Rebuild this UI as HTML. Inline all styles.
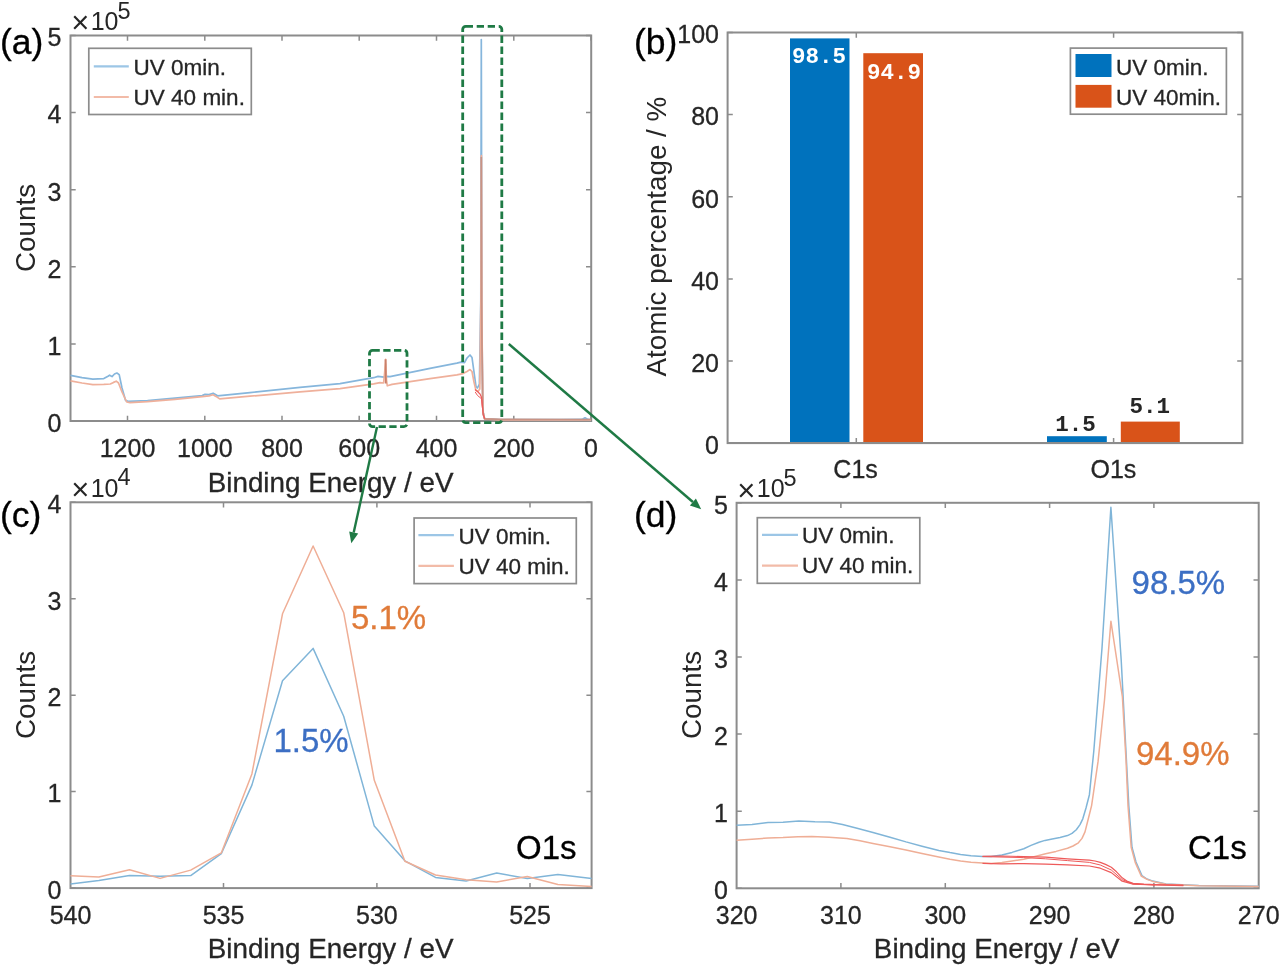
<!DOCTYPE html>
<html><head><meta charset="utf-8"><title>XPS</title>
<style>html,body{margin:0;padding:0;background:#fff;overflow:hidden}svg{display:block;filter:blur(0.55px)}text{font-family:"Liberation Sans",sans-serif;stroke-width:.3px}.m{font-family:"Liberation Mono",monospace;font-weight:bold}</style>
</head><body>
<svg width="1280" height="967" viewBox="0 0 1280 967">
<rect width="1280" height="967" fill="#fff"/>
<rect x="70.5" y="35.5" width="520.7" height="385.5" fill="#fff" stroke="#8c8c8c" stroke-width="2.0"/>
<path d="M127.5 421v-5.2M127.5 35.5v5.2M204.8 421v-5.2M204.8 35.5v5.2M282.0 421v-5.2M282.0 35.5v5.2M359.2 421v-5.2M359.2 35.5v5.2M436.5 421v-5.2M436.5 35.5v5.2M513.8 421v-5.2M513.8 35.5v5.2M591.0 421v-5.2M591.0 35.5v5.2M70.5 421.0h5.2M591.2 421.0h-5.2M70.5 343.9h5.2M591.2 343.9h-5.2M70.5 266.8h5.2M591.2 266.8h-5.2M70.5 189.7h5.2M591.2 189.7h-5.2M70.5 112.6h5.2M591.2 112.6h-5.2M70.5 35.5h5.2M591.2 35.5h-5.2" stroke="#8c8c8c" stroke-width="1.5" fill="none"/>
<text x="127.5" y="456.7" font-size="25" text-anchor="middle" fill="#262626" stroke="#262626" >1200</text>
<text x="204.8" y="456.7" font-size="25" text-anchor="middle" fill="#262626" stroke="#262626" >1000</text>
<text x="282.0" y="456.7" font-size="25" text-anchor="middle" fill="#262626" stroke="#262626" >800</text>
<text x="359.2" y="456.7" font-size="25" text-anchor="middle" fill="#262626" stroke="#262626" >600</text>
<text x="436.5" y="456.7" font-size="25" text-anchor="middle" fill="#262626" stroke="#262626" >400</text>
<text x="513.8" y="456.7" font-size="25" text-anchor="middle" fill="#262626" stroke="#262626" >200</text>
<text x="591.0" y="456.7" font-size="25" text-anchor="middle" fill="#262626" stroke="#262626" >0</text>
<text x="61.5" y="431.8" font-size="25" text-anchor="end" fill="#262626" stroke="#262626" >0</text>
<text x="61.5" y="354.7" font-size="25" text-anchor="end" fill="#262626" stroke="#262626" >1</text>
<text x="61.5" y="277.6" font-size="25" text-anchor="end" fill="#262626" stroke="#262626" >2</text>
<text x="61.5" y="200.5" font-size="25" text-anchor="end" fill="#262626" stroke="#262626" >3</text>
<text x="61.5" y="123.4" font-size="25" text-anchor="end" fill="#262626" stroke="#262626" >4</text>
<text x="61.5" y="46.3" font-size="25" text-anchor="end" fill="#262626" stroke="#262626" >5</text>
<text x="80.3" y="33.3" font-size="31" text-anchor="middle" fill="#262626">×</text>
<text x="90.7" y="30.0" font-size="25" fill="#262626">10</text>
<text x="117.5" y="18.5" font-size="23.5" fill="#262626">5</text>
<text x="330.6" y="491.8" font-size="27.8" text-anchor="middle" fill="#262626" stroke="#262626" >Binding Energy / eV</text>
<text transform="translate(35.4,228) rotate(-90)" font-size="27.8" text-anchor="middle" fill="#262626">Counts</text>
<text x="0.0" y="54.2" font-size="35.5" text-anchor="start" fill="#000" stroke="#000" >(a)</text>
<path d="M70.5 375.3 L82.0 377.6 L92.8 379.2 L103.8 378.6 L108.0 376.2 L109.6 375.2 L112.0 376.6 L114.5 374.0 L116.9 373.0 L119.2 374.6 L122.0 388.0 L125.6 400.4 L128.0 401.3 L147.5 400.7 L175.0 398.2 L202.2 395.6 L205.0 394.4 L209.0 394.6 L213.1 393.2 L215.0 394.2 L217.5 395.8 L250.0 392.6 L300.0 387.4 L340.0 383.6 L373.7 377.7 L378.0 376.4 L384.0 377.2 L386.0 376.4 L390.0 376.6 L430.0 368.4 L456.9 363.2 L461.0 362.2 L464.5 362.6 L467.0 358.0 L470.0 355.0 L472.0 357.5 L474.0 372.0 L476.0 386.5 L477.5 388.0 L479.4 384.0 L480.8 300.0 L481.3 39.5 L481.9 330.0 L483.0 412.0 L484.5 418.6 L500.0 419.5 L560.0 419.6 L582.0 419.4 L585.0 417.8 L588.0 419.4 L591.0 419.6" fill="none" stroke="#86b6dc" stroke-width="1.7" stroke-linejoin="round"  />
<path d="M70.5 380.8 L82.0 383.0 L92.8 384.7 L103.8 384.4 L110.3 384.0 L113.5 382.4 L116.2 381.2 L118.5 383.0 L122.0 392.0 L126.7 402.0 L130.0 402.6 L147.5 401.6 L175.0 399.4 L202.2 396.7 L209.0 395.9 L213.1 394.8 L216.0 396.4 L219.7 398.9 L250.0 396.2 L300.0 391.8 L340.0 388.6 L373.7 383.8 L380.0 382.6 L383.6 383.0 L384.7 372.0 L385.6 359.3 L386.5 380.0 L387.3 385.8 L392.0 384.4 L430.0 378.6 L456.9 374.8 L463.0 373.6 L467.0 371.4 L470.0 369.6 L472.0 371.5 L474.0 382.0 L476.0 390.5 L478.0 391.4 L479.8 389.0 L480.9 300.0 L481.4 155.5 L482.0 330.0 L483.0 412.0 L484.5 418.8 L500.0 419.8 L560.0 419.9 L591.0 419.9" fill="none" stroke="#efb09b" stroke-width="1.7" stroke-linejoin="round"  />
<path d="M481.3 157.0 L481.5 300.0 L482.6 405.0 L483.4 414.0 L484.6 418.8 L500.0 419.4 L591.0 419.5" fill="none" stroke="#c99384" stroke-width="1.7" stroke-linejoin="round"  />
<path d="M385.6 359.3 L385.8 383.5" fill="none" stroke="#c9806a" stroke-width="1.8" stroke-linejoin="round"  />
<path d="M475.0 389.5 L477.5 391.5 L480.0 394.0 L481.6 397.5 L482.4 406.0 L483.2 415.0 L484.8 418.8" fill="none" stroke="#ee5a5a" stroke-width="1.2" stroke-linejoin="round"  />
<path d="M475.2 392.0 L477.5 395.5 L480.0 397.5 L481.6 399.0 L482.4 408.0" fill="none" stroke="#ee5a5a" stroke-width="1.0" stroke-linejoin="round"  />
<rect x="88.8" y="48.3" width="162.5" height="66.2" fill="#fff" stroke="#8c8c8c" stroke-width="1.7"/>
<path d="M93.8 66.3H128.8" stroke="#9cc6e6" stroke-width="2.2"/>
<path d="M93.8 97H128.8" stroke="#f2bba8" stroke-width="2.2"/>
<text x="133.6" y="74.5" font-size="22.5" text-anchor="start" fill="#262626" stroke="#262626" >UV 0min.</text>
<text x="133.6" y="105.0" font-size="22.5" text-anchor="start" fill="#262626" stroke="#262626" >UV 40 min.</text>
<rect x="727.6" y="32.5" width="514.8" height="410.6" fill="#fff" stroke="#8c8c8c" stroke-width="2.0"/>
<path d="M856.3 443.1v-5.2M856.3 32.5v5.2M1113.6 443.1v-5.2M1113.6 32.5v5.2M727.6 443.1h5.2M1242.4 443.1h-5.2M727.6 361.0h5.2M1242.4 361.0h-5.2M727.6 278.9h5.2M1242.4 278.9h-5.2M727.6 196.7h5.2M1242.4 196.7h-5.2M727.6 114.6h5.2M1242.4 114.6h-5.2M727.6 32.5h5.2M1242.4 32.5h-5.2" stroke="#8c8c8c" stroke-width="1.5" fill="none"/>
<text x="719.0" y="453.9" font-size="25" text-anchor="end" fill="#262626" stroke="#262626" >0</text>
<text x="719.0" y="371.8" font-size="25" text-anchor="end" fill="#262626" stroke="#262626" >20</text>
<text x="719.0" y="289.7" font-size="25" text-anchor="end" fill="#262626" stroke="#262626" >40</text>
<text x="719.0" y="207.5" font-size="25" text-anchor="end" fill="#262626" stroke="#262626" >60</text>
<text x="719.0" y="125.4" font-size="25" text-anchor="end" fill="#262626" stroke="#262626" >80</text>
<text x="719.0" y="43.3" font-size="25" text-anchor="end" fill="#262626" stroke="#262626" >100</text>
<rect x="790" y="38.4" width="59.5" height="404.7" fill="#0072bd"/>
<rect x="863.3" y="53.2" width="59.7" height="389.9" fill="#d95319"/>
<rect x="1047" y="436.2" width="59.8" height="6.9" fill="#0072bd"/>
<rect x="1120.8" y="421.6" width="59" height="21.5" fill="#d95319"/>
<path d="M727.6 443.1H1242.4" stroke="#8c8c8c" stroke-width="2.0"/>
<text x="855.6" y="478.0" font-size="25" text-anchor="middle" fill="#262626" stroke="#262626" >C1s</text>
<text x="1113.4" y="478.0" font-size="25" text-anchor="middle" fill="#262626" stroke="#262626" >O1s</text>
<text x="819" y="63.1" font-size="22.5" text-anchor="middle" fill="#fff" class="m">98.5</text>
<text x="894" y="78.7" font-size="22.5" text-anchor="middle" fill="#fff" class="m">94.9</text>
<text x="1075.6" y="430.6" font-size="22.5" text-anchor="middle" fill="#262626" class="m">1.5</text>
<text x="1149.7" y="413.1" font-size="22.5" text-anchor="middle" fill="#262626" class="m">5.1</text>
<text transform="translate(666,236.6) rotate(-90)" font-size="27.8" text-anchor="middle" fill="#262626">Atomic percentage / %</text>
<text x="634.0" y="54.0" font-size="35.5" text-anchor="start" fill="#000" stroke="#000" >(b)</text>
<rect x="1070.4" y="48.1" width="156" height="66.1" fill="#fff" stroke="#8c8c8c" stroke-width="1.7"/>
<rect x="1075.5" y="54" width="36" height="23" fill="#0072bd"/>
<rect x="1075.5" y="84.9" width="36" height="22.8" fill="#d95319"/>
<text x="1116.0" y="74.5" font-size="22.5" text-anchor="start" fill="#262626" stroke="#262626" >UV 0min.</text>
<text x="1116.0" y="105.0" font-size="22.5" text-anchor="start" fill="#262626" stroke="#262626" >UV 40min.</text>
<rect x="70.5" y="502.3" width="521.1" height="385.8" fill="#fff" stroke="#8c8c8c" stroke-width="2.0"/>
<path d="M223.5 888.1v-5.2M223.5 502.3v5.2M376.9 888.1v-5.2M376.9 502.3v5.2M530.0 888.1v-5.2M530.0 502.3v5.2M70.5 888.1h5.2M591.6 888.1h-5.2M70.5 791.6h5.2M591.6 791.6h-5.2M70.5 695.2h5.2M591.6 695.2h-5.2M70.5 598.8h5.2M591.6 598.8h-5.2M70.5 502.3h5.2M591.6 502.3h-5.2" stroke="#8c8c8c" stroke-width="1.5" fill="none"/>
<text x="70.5" y="923.8" font-size="25" text-anchor="middle" fill="#262626" stroke="#262626" >540</text>
<text x="223.5" y="923.8" font-size="25" text-anchor="middle" fill="#262626" stroke="#262626" >535</text>
<text x="376.9" y="923.8" font-size="25" text-anchor="middle" fill="#262626" stroke="#262626" >530</text>
<text x="530.0" y="923.8" font-size="25" text-anchor="middle" fill="#262626" stroke="#262626" >525</text>
<text x="61.5" y="898.9" font-size="25" text-anchor="end" fill="#262626" stroke="#262626" >0</text>
<text x="61.5" y="802.4" font-size="25" text-anchor="end" fill="#262626" stroke="#262626" >1</text>
<text x="61.5" y="706.0" font-size="25" text-anchor="end" fill="#262626" stroke="#262626" >2</text>
<text x="61.5" y="609.5" font-size="25" text-anchor="end" fill="#262626" stroke="#262626" >3</text>
<text x="61.5" y="513.1" font-size="25" text-anchor="end" fill="#262626" stroke="#262626" >4</text>
<text x="80.3" y="500.1" font-size="31" text-anchor="middle" fill="#262626">×</text>
<text x="90.7" y="496.8" font-size="25" fill="#262626">10</text>
<text x="117.5" y="485.3" font-size="23.5" fill="#262626">4</text>
<text x="330.6" y="958.2" font-size="27.8" text-anchor="middle" fill="#262626" stroke="#262626" >Binding Energy / eV</text>
<text transform="translate(35.4,695) rotate(-90)" font-size="27.8" text-anchor="middle" fill="#262626">Counts</text>
<text x="0.0" y="526.6" font-size="35.5" text-anchor="start" fill="#000" stroke="#000" >(c)</text>
<path d="M70.5 883.9 L98.9 880.6 L129.5 875.6 L160.1 876.3 L190.7 875.6 L221.3 853.7 L251.9 785.1 L282.5 680.8 L313.1 648.4 L343.7 716.2 L374.3 826.1 L404.9 860.8 L435.5 877.4 L466.1 881.0 L496.7 873.1 L527.3 878.4 L557.9 874.6 L591.6 878.4" fill="none" stroke="#80b5d8" stroke-width="1.5" stroke-linejoin="round"  />
<path d="M70.5 875.8 L98.9 876.9 L129.5 869.7 L160.1 878.4 L190.7 870.1 L221.3 852.9 L251.9 773.9 L282.5 613.8 L313.1 546.0 L343.7 612.7 L374.3 780.3 L404.9 861.2 L435.5 875.0 L466.1 879.7 L496.7 881.9 L527.3 876.5 L557.9 884.4 L591.6 886.6" fill="none" stroke="#efae96" stroke-width="1.5" stroke-linejoin="round"  />
<rect x="414.1" y="518" width="162.2" height="65.6" fill="#fff" stroke="#8c8c8c" stroke-width="1.7"/>
<path d="M418.4 535.2H453.9" stroke="#9cc6e6" stroke-width="2.2"/>
<path d="M418.4 565.9H453.9" stroke="#f2bba8" stroke-width="2.2"/>
<text x="458.4" y="543.7" font-size="22.5" text-anchor="start" fill="#262626" stroke="#262626" >UV 0min.</text>
<text x="458.4" y="573.7" font-size="22.5" text-anchor="start" fill="#262626" stroke="#262626" >UV 40 min.</text>
<text x="351.0" y="628.5" font-size="33" text-anchor="start" fill="#e07b39" stroke="#e07b39" >5.1%</text>
<text x="273.5" y="751.5" font-size="33" text-anchor="start" fill="#3c6fc4" stroke="#3c6fc4" >1.5%</text>
<text x="516.0" y="859.0" font-size="33" text-anchor="start" fill="#000" stroke="#000" >O1s</text>
<rect x="736.6" y="502.8" width="522.1" height="385.5" fill="#fff" stroke="#8c8c8c" stroke-width="2.0"/>
<path d="M840.9 888.3v-5.2M840.9 502.8v5.2M945.3 888.3v-5.2M945.3 502.8v5.2M1049.6 888.3v-5.2M1049.6 502.8v5.2M1153.9 888.3v-5.2M1153.9 502.8v5.2M736.6 888.3h5.2M1258.7 888.3h-5.2M736.6 811.2h5.2M1258.7 811.2h-5.2M736.6 734.1h5.2M1258.7 734.1h-5.2M736.6 657.0h5.2M1258.7 657.0h-5.2M736.6 579.9h5.2M1258.7 579.9h-5.2M736.6 502.8h5.2M1258.7 502.8h-5.2" stroke="#8c8c8c" stroke-width="1.5" fill="none"/>
<text x="736.6" y="923.8" font-size="25" text-anchor="middle" fill="#262626" stroke="#262626" >320</text>
<text x="840.9" y="923.8" font-size="25" text-anchor="middle" fill="#262626" stroke="#262626" >310</text>
<text x="945.3" y="923.8" font-size="25" text-anchor="middle" fill="#262626" stroke="#262626" >300</text>
<text x="1049.6" y="923.8" font-size="25" text-anchor="middle" fill="#262626" stroke="#262626" >290</text>
<text x="1153.9" y="923.8" font-size="25" text-anchor="middle" fill="#262626" stroke="#262626" >280</text>
<text x="1258.7" y="923.8" font-size="25" text-anchor="middle" fill="#262626" stroke="#262626" >270</text>
<text x="728.0" y="899.1" font-size="25" text-anchor="end" fill="#262626" stroke="#262626" >0</text>
<text x="728.0" y="822.0" font-size="25" text-anchor="end" fill="#262626" stroke="#262626" >1</text>
<text x="728.0" y="744.9" font-size="25" text-anchor="end" fill="#262626" stroke="#262626" >2</text>
<text x="728.0" y="667.8" font-size="25" text-anchor="end" fill="#262626" stroke="#262626" >3</text>
<text x="728.0" y="590.7" font-size="25" text-anchor="end" fill="#262626" stroke="#262626" >4</text>
<text x="728.0" y="513.6" font-size="25" text-anchor="end" fill="#262626" stroke="#262626" >5</text>
<text x="746.4" y="500.6" font-size="31" text-anchor="middle" fill="#262626">×</text>
<text x="756.8" y="497.3" font-size="25" fill="#262626">10</text>
<text x="783.6" y="485.8" font-size="23.5" fill="#262626">5</text>
<text x="996.7" y="958.2" font-size="27.8" text-anchor="middle" fill="#262626" stroke="#262626" >Binding Energy / eV</text>
<text transform="translate(701.2,695) rotate(-90)" font-size="27.8" text-anchor="middle" fill="#262626">Counts</text>
<text x="634.0" y="526.5" font-size="35.5" text-anchor="start" fill="#000" stroke="#000" >(d)</text>
<path d="M736.6 825.3 L752.0 824.4 L768.0 822.6 L783.0 822.2 L798.8 821.1 L815.0 821.8 L829.4 822.0 L842.5 824.4 L858.0 828.4 L873.0 832.5 L890.0 837.2 L906.0 841.9 L922.0 846.2 L938.8 850.4 L950.0 852.6 L960.6 854.4 L971.0 855.7 L982.5 856.6 L991.0 856.4 L1001.9 854.9 L1012.0 852.4 L1023.8 848.7 L1031.0 845.4 L1039.0 842.2 L1045.0 840.4 L1052.2 838.9 L1060.0 837.4 L1067.5 835.6 L1072.0 833.4 L1076.3 829.7 L1080.0 824.6 L1082.8 818.8 L1086.0 808.0 L1089.4 794.7 L1093.8 751.0 L1102.0 648.0 L1110.9 507.3 L1121.2 660.0 L1128.8 805.6 L1132.0 847.2 L1136.0 862.0 L1141.9 875.6 L1147.0 879.0 L1152.8 881.1 L1166.0 884.0 L1198.8 885.5 L1258.7 886.2" fill="none" stroke="#80b5d8" stroke-width="1.5" stroke-linejoin="round"  />
<path d="M736.6 840.2 L752.0 839.2 L768.0 838.0 L783.0 837.6 L798.0 836.8 L811.9 836.4 L829.0 837.2 L846.9 838.4 L860.0 840.8 L873.0 843.4 L890.0 846.8 L906.0 850.0 L922.0 853.6 L938.8 857.0 L950.0 859.2 L960.6 860.9 L971.0 862.3 L982.5 863.1 L991.0 863.6 L1001.9 862.5 L1012.0 861.0 L1023.8 859.2 L1034.0 856.8 L1045.6 853.8 L1056.0 851.4 L1067.5 848.3 L1073.0 846.0 L1078.4 842.8 L1082.0 838.4 L1085.0 831.9 L1088.0 820.0 L1091.6 805.6 L1098.0 761.9 L1104.5 700.0 L1110.9 621.2 L1122.4 697.0 L1126.0 760.0 L1128.0 805.8 L1131.2 847.2 L1135.2 862.4 L1141.2 876.0 L1147.0 879.4 L1152.8 881.4 L1166.0 884.2 L1198.8 885.7 L1258.7 886.4" fill="none" stroke="#efae96" stroke-width="1.5" stroke-linejoin="round"  />
<path d="M982.5 856.4 L1001.9 856.0 L1023.8 856.6 L1045.6 857.2 L1067.5 858.8 L1080.0 859.6 L1089.4 860.2 L1095.0 861.0 L1100.3 862.4 L1105.5 864.4 L1111.3 867.2 L1116.5 871.8 L1122.2 877.8 L1127.5 881.4 L1133.1 883.4 L1144.0 884.2 L1155.0 884.6 L1183.4 885.2" fill="none" stroke="#ee5a5a" stroke-width="1.2" stroke-linejoin="round"  />
<path d="M982.5 856.6 L1023.8 857.6 L1045.6 858.8 L1067.5 860.6 L1089.4 862.4 L1100.3 865.0 L1111.3 870.0 L1122.2 879.6 L1133.1 884.0 L1155.0 885.0" fill="none" stroke="#ee5a5a" stroke-width="1.0" stroke-linejoin="round"  />
<path d="M982.5 863.4 L1001.9 863.8 L1023.8 863.6 L1045.6 864.2 L1067.5 864.8 L1089.4 866.0 L1100.3 868.2 L1111.3 872.6 L1122.2 881.2 L1133.1 884.2 L1155.0 885.0 L1183.4 885.6" fill="none" stroke="#ee5a5a" stroke-width="1.2" stroke-linejoin="round"  />
<rect x="757.3" y="517.7" width="162.5" height="65.6" fill="#fff" stroke="#8c8c8c" stroke-width="1.7"/>
<path d="M762 534.8H798" stroke="#9cc6e6" stroke-width="2.2"/>
<path d="M762 565.6H798" stroke="#f2bba8" stroke-width="2.2"/>
<text x="802.0" y="543.4" font-size="22.5" text-anchor="start" fill="#262626" stroke="#262626" >UV 0min.</text>
<text x="802.0" y="573.4" font-size="22.5" text-anchor="start" fill="#262626" stroke="#262626" >UV 40 min.</text>
<text x="1131.6" y="594.0" font-size="33" text-anchor="start" fill="#3c6fc4" stroke="#3c6fc4" >98.5%</text>
<text x="1136.0" y="764.5" font-size="33" text-anchor="start" fill="#e07b39" stroke="#e07b39" >94.9%</text>
<text x="1188.0" y="859.0" font-size="33" text-anchor="start" fill="#000" stroke="#000" >C1s</text>
<rect x="369.5" y="350.3" width="37.5" height="76.3" rx="3" ry="3" fill="none" stroke="#1f7a45" stroke-width="2.8" stroke-dasharray="7.3 3.46"/>
<rect x="462.7" y="26.3" width="39.1" height="396.3" rx="3" ry="3" fill="none" stroke="#1f7a45" stroke-width="2.8" stroke-dasharray="7.3 3.7"/>
<path d="M377.0 427.0L353.7 532.6" stroke="#1f7a45" stroke-width="2.4" fill="none"/>
<path d="M351.3 543.3L349.2 531.6L358.2 533.6Z" fill="#1f7a45"/>
<path d="M508.8 344.0L692.9 502.0" stroke="#1f7a45" stroke-width="2.4" fill="none"/>
<path d="M701.2 509.2L689.9 505.5L695.9 498.5Z" fill="#1f7a45"/>
</svg></body></html>
